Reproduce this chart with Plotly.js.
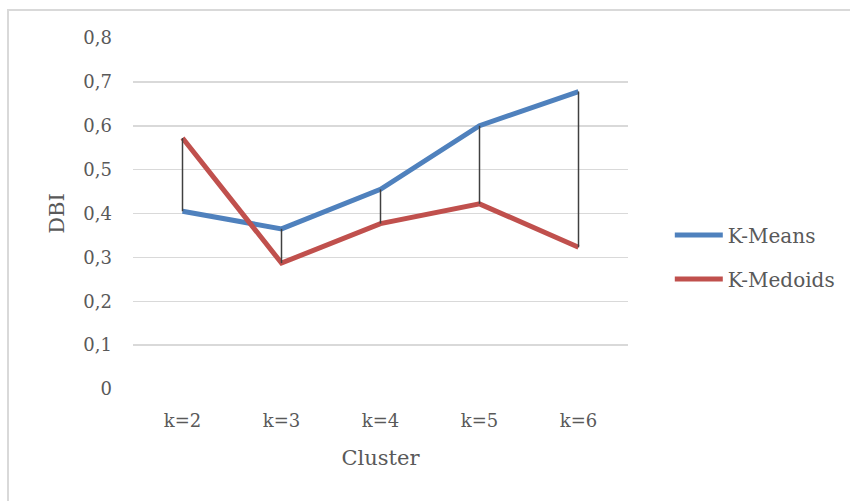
<!DOCTYPE html>
<html>
<head>
<meta charset="utf-8">
<script src="https://cdn.plot.ly/plotly-3.0.1.min.js"></script>
<style>
  html, body { margin: 0; padding: 0; background: #ffffff; }
  #frame { position: absolute; left: 7px; top: 9px; width: 850px; height: 500px; border-left: 2px solid #d9d9d9; border-top: 2px solid #d9d9d9; }
  #chart { position: absolute; left: 0; top: 0; width: 850px; height: 501px; }
</style>
</head>
<body>
<div id="frame"></div>
<div id="chart"></div>
<script>
const categories = ["k=2", "k=3", "k=4", "k=5", "k=6"];
const kMeans = [0.405, 0.365, 0.455, 0.600, 0.678];
const kMedoids = [0.572, 0.287, 0.377, 0.422, 0.323];
const seriesNames = ["K-Means", "K-Medoids"];
const yTicks = [0, 0.1, 0.2, 0.3, 0.4, 0.5, 0.6, 0.7, 0.8];

const FONT = "DejaVu Serif, Liberation Serif, serif";
const TXT = "#595959";

// high-low lines built from the two series
const hlX = [], hlY = [];
categories.forEach((c, i) => {
  hlX.push(c, c, null);
  hlY.push(Math.min(kMeans[i], kMedoids[i]), Math.max(kMeans[i], kMedoids[i]), null);
});

const traces = [
  { x: categories, y: kMeans, name: seriesNames[0], type: "scatter", mode: "lines",
    line: { color: "#4F81BD", width: 5 }, legend: "legend" },
  { x: categories, y: kMedoids, name: seriesNames[1], type: "scatter", mode: "lines",
    line: { color: "#C0504D", width: 5 }, legend: "legend2" },
  { x: hlX, y: hlY, type: "scatter", mode: "lines", showlegend: false, hoverinfo: "skip",
    line: { color: "#404040", width: 1.5 } }
];

const layout = {
  width: 850, height: 501,
  paper_bgcolor: "rgba(0,0,0,0)", plot_bgcolor: "rgba(0,0,0,0)",
  separators: ",.",
  margin: { l: 133, r: 222, t: 38, b: 112 },
  font: { family: FONT, color: TXT, size: 18 },
  xaxis: {
    type: "category", range: [-0.5, 4.5], showgrid: false, zeroline: false,
    showline: false, ticks: "", ticklabelstandoff: 19,
    tickfont: { family: FONT, size: 18, color: TXT },
    title: { text: "Cluster", font: { family: FONT, size: 21, color: TXT }, standoff: 20 }
  },
  yaxis: {
    range: [0, 0.8], tickvals: yTicks, showgrid: true, gridcolor: "#D9D9D9", gridwidth: 1.5,
    zeroline: false, showline: false, ticks: "", ticklabelstandoff: 20,
    tickfont: { family: FONT, size: 18, color: TXT },
    title: { text: "DBI", font: { family: FONT, size: 21, color: TXT }, standoff: 13 }
  },
  legend: { xref: "container", yref: "container", x: 0.788, y: 0.531,
    xanchor: "left", yanchor: "middle", bgcolor: "rgba(0,0,0,0)",
    font: { family: FONT, size: 20, color: TXT }, itemwidth: 48 },
  legend2: { xref: "container", yref: "container", x: 0.788, y: 0.443,
    xanchor: "left", yanchor: "middle", bgcolor: "rgba(0,0,0,0)",
    font: { family: FONT, size: 20, color: TXT }, itemwidth: 48 },
  showlegend: true
};

Plotly.newPlot("chart", traces, layout, { displayModeBar: false, staticPlot: true });
</script>
</body>
</html>
